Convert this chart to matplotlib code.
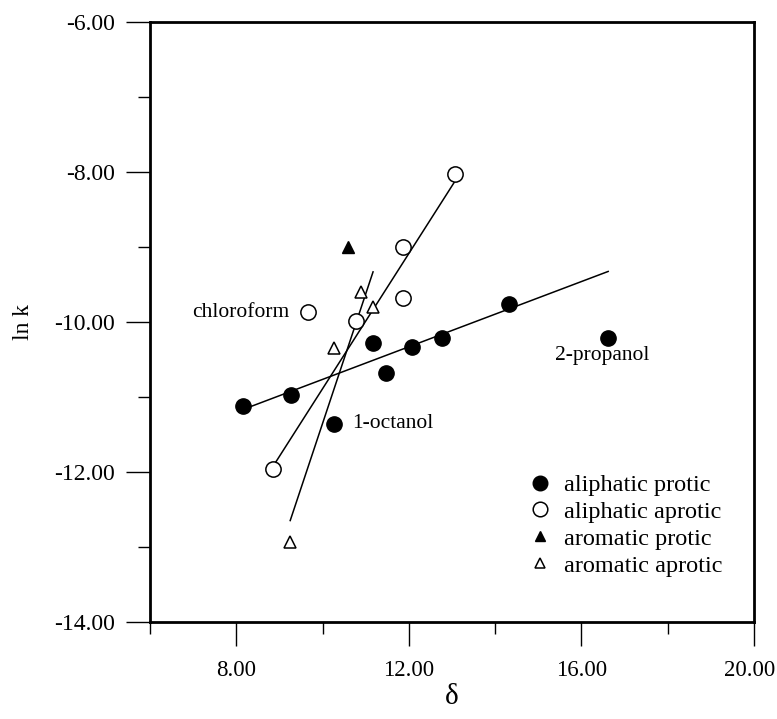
import numpy as np
import matplotlib
matplotlib.use("Agg")
import matplotlib.pyplot as plt
from matplotlib.ticker import MultipleLocator, FuncFormatter, FormatStrFormatter
from matplotlib.lines import Line2D

plt.rcParams['font.family'] = ['Liberation Serif', 'DejaVu Serif']
plt.rcParams['axes.unicode_minus'] = False

# ---- data ----
ali_protic_x = [8.16, 9.27, 10.27, 11.17, 11.47, 12.07, 12.77, 14.32, 16.62]
ali_protic_y = [-11.12, -10.97, -11.36, -10.28, -10.68, -10.33, -10.21, -9.76, -10.21]
ali_protic_excl = [2, 8]          # 1-octanol, 2-propanol not in fit

ali_aprotic_x = [8.85, 9.66, 10.78, 11.86, 11.86, 13.07]
ali_aprotic_y = [-11.96, -9.87, -9.99, -9.00, -9.68, -8.03]
ali_aprotic_excl = [1]            # chloroform not in fit

aro_protic_x = [10.59]
aro_protic_y = [-9.00]

aro_aprotic_x = [9.25, 10.27, 10.89, 11.17]
aro_aprotic_y = [-12.93, -10.35, -9.60, -9.80]
aro_aprotic_excl = []

labels = ["aliphatic protic", "aliphatic aprotic", "aromatic protic", "aromatic aprotic"]
annot_names = ["chloroform", "1-octanol", "2-propanol"]

X_MIN, X_MAX = 6, 20
Y_MIN, Y_MAX = -14, -6

fig = plt.figure(figsize=(7.77, 7.19), dpi=100)
ax = fig.add_axes([150/777, 1-622/719, 604/777, 600/719])

def fit_line(xs, ys, excl):
    xs = np.asarray(xs); ys = np.asarray(ys)
    keep = np.array([i not in excl for i in range(len(xs))])
    m, b = np.polyfit(xs[keep], ys[keep], 1)
    xr = np.array([xs.min(), xs.max()])
    ax.plot(xr, m*xr + b, color='black', lw=1.1, zorder=1)

fit_line(ali_protic_x, ali_protic_y, ali_protic_excl)
fit_line(ali_aprotic_x, ali_aprotic_y, ali_aprotic_excl)
fit_line(aro_aprotic_x, aro_aprotic_y, aro_aprotic_excl)

ms_c = 11
ms_t = 8.5
ax.plot(ali_protic_x, ali_protic_y, 'o', ms=ms_c, mfc='black', mec='black', zorder=3)
ax.plot(ali_aprotic_x, ali_aprotic_y, 'o', ms=ms_c, mfc='white', mec='black', mew=1.1, zorder=3)
ax.plot(aro_protic_x, aro_protic_y, '^', ms=ms_t, mfc='black', mec='black', zorder=3)
ax.plot(aro_aprotic_x, aro_aprotic_y, '^', ms=ms_t, mfc='white', mec='black', mew=1.1, zorder=3)

# annotations
fs_ann = 15.5
ax.annotate(annot_names[0], (ali_aprotic_x[1], ali_aprotic_y[1]), xytext=(-13, 0),
            textcoords='offset points', ha='right', va='center', fontsize=fs_ann)
ax.annotate(annot_names[1], (ali_protic_x[2], ali_protic_y[2]), xytext=(13, 0),
            textcoords='offset points', ha='left', va='center', fontsize=fs_ann)
ax.annotate(annot_names[2], (ali_protic_x[8], ali_protic_y[8]), xytext=(-4, -6),
            textcoords='offset points', ha='center', va='top', fontsize=fs_ann)

ax.set_xlim(X_MIN, X_MAX)
ax.set_ylim(Y_MIN, Y_MAX)
ax.xaxis.set_major_locator(MultipleLocator(4))
ax.xaxis.set_minor_locator(MultipleLocator(2))
ax.yaxis.set_major_locator(MultipleLocator(2))
ax.yaxis.set_minor_locator(MultipleLocator(1))
# the tick label at the right end is drawn separately so it stays inside the figure
ax.xaxis.set_major_formatter(FuncFormatter(lambda v, p: '' if abs(v - X_MAX) < 1e-9 else '%.2f' % v))
ax.yaxis.set_major_formatter(FormatStrFormatter('%.2f'))
tick_len, x_pad, x_lab_fs = 17.5, 10, 16.5
ax.tick_params(axis='both', which='major', length=tick_len, width=1.0, direction='out')
ax.tick_params(axis='both', which='minor', length=8.5, width=1.0, direction='out')
ax.tick_params(axis='y', which='major', pad=8, labelsize=17)
ax.tick_params(axis='x', which='major', pad=x_pad, labelsize=x_lab_fs)
ax.annotate('%.2f' % X_MAX, (X_MAX, 0), xycoords=ax.get_xaxis_transform(),
            xytext=(15, -(tick_len + x_pad)), textcoords='offset points',
            ha='right', va='top', fontsize=x_lab_fs, annotation_clip=False)
for s in ax.spines.values():
    s.set_linewidth(2.0)

ax.set_xlabel('δ', fontsize=21, labelpad=2)
ax.set_ylabel('ln k', fontsize=17, labelpad=14)

handles = [
    Line2D([], [], ls='none', marker='o', ms=10.5, mfc='black', mec='black'),
    Line2D([], [], ls='none', marker='o', ms=10.5, mfc='white', mec='black', mew=1.1),
    Line2D([], [], ls='none', marker='^', ms=7.5, mfc='black', mec='black'),
    Line2D([], [], ls='none', marker='^', ms=7.5, mfc='white', mec='black', mew=1.1),
]
ax.legend(handles, labels, loc='upper left', bbox_to_anchor=(528/777, 1-474/719),
          bbox_transform=fig.transFigure, frameon=False, fontsize=17.5,
          handlelength=1.0, handletextpad=0.5, labelspacing=0.2, borderpad=0,
          borderaxespad=0)

fig.savefig('out.png', dpi=100, facecolor='white')
